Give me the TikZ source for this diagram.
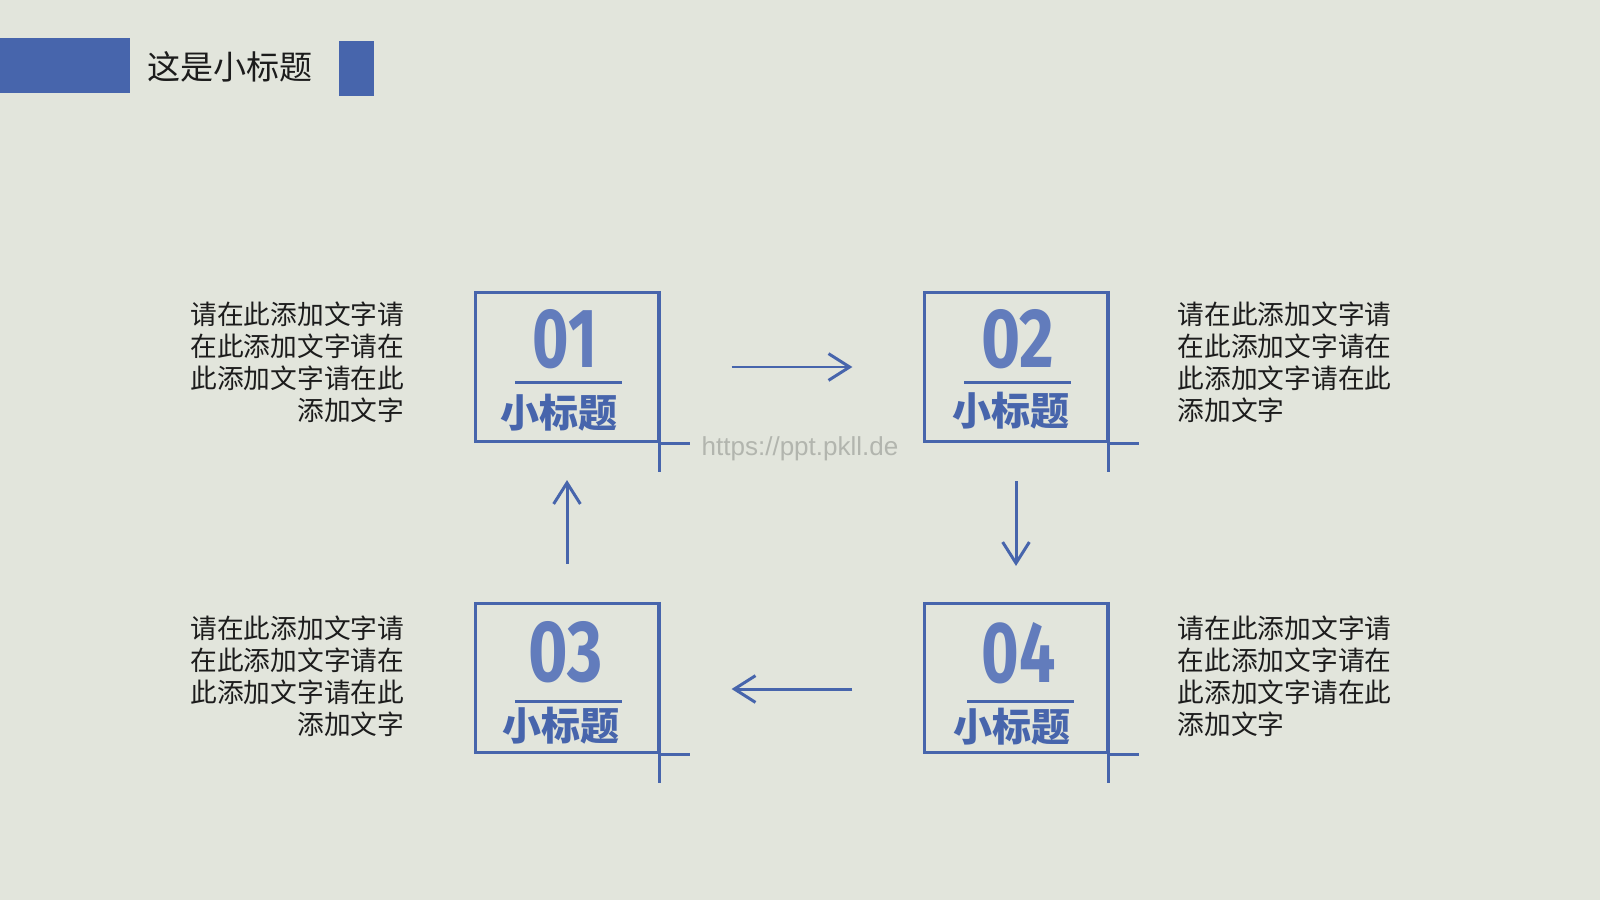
\documentclass[tikz,border=0pt]{standalone}
\usepackage{fontspec}
\setmainfont{Liberation Sans}
\newfontfamily\cjk{Noto Sans CJK SC}
\newfontfamily\numfont{Fira Sans}
\usetikzlibrary{arrows.meta}
\definecolor{blueC}{RGB}{71,101,172}
\definecolor{digitC}{RGB}{98,124,188}
\definecolor{paper}{RGB}{226,229,220}
\definecolor{ink}{RGB}{28,28,28}
\definecolor{wm}{RGB}{178,181,174}
\begin{document}
\begin{tikzpicture}[x=0.01cm,y=-0.01cm,
  boxline/.style={draw=blueC,line width=0.85pt},
  stepbox/.style={draw=blueC,line width=0.85pt,minimum width=1.82cm,minimum height=1.49cm,inner sep=0pt},
  flow/.style={draw=blueC,line width=0.85pt,-{Straight Barb[length=6pt,width=7.6pt,line width=0.85pt]}},
  body/.style={font=\cjk\fontsize{7.6pt}{9.1pt}\selectfont,text=ink,inner sep=0pt},
  sub/.style={font=\cjk\bfseries\fontsize{11.1pt}{12pt}\selectfont,text=blueC,inner sep=0pt},
  digits/.style={text=digitC,inner sep=0pt}]
\fill[paper] (0,0) rectangle (1600,900);
\useasboundingbox (0,0) rectangle (1600,900);

% header
\fill[blueC] (0,38) rectangle (130,93);
\fill[blueC] (339,41) rectangle (374,96);
\node[anchor=west,inner sep=0pt,text=ink,font=\cjk\fontsize{9.4pt}{10pt}\selectfont] (title) at (147,67) {这是小标题};

% boxes
\node[stepbox] (b1) at (567,367) {};
\node[stepbox] (b2) at (1016,367) {};
\node[stepbox] (b3) at (567,678) {};
\node[stepbox] (b4) at (1016,678) {};

\foreach \b in {b1,b2,b3,b4}{
  \draw[boxline] (\b.north east) -- ([yshift=-0.29cm]\b.south east);
  \draw[boxline] (\b.south east) -- ([xshift=0.3cm]\b.south east);
}

% box contents
\node[digits] (n1) at (565,339) {\resizebox{0.64cm}{0.58cm}{\numfont\bfseries 01}};
\node[digits] (n2) at (1018,339) {\resizebox{0.73cm}{0.58cm}{\numfont\bfseries 02}};
\node[digits] (n3) at (566,652) {\resizebox{0.74cm}{0.6cm}{\numfont\bfseries 03}};
\node[digits] (n4) at (1019,653) {\resizebox{0.74cm}{0.6cm}{\numfont\bfseries 04}};

\draw[boxline] (515,382) -- (622,382);
\draw[boxline] (964,382) -- (1071,382);
\draw[boxline] (515,701) -- (622,701);
\draw[boxline] (967,701) -- (1074,701);

\node[sub] (s1) at (559,413) {小标题};
\node[sub] (s2) at (1011,411) {小标题};
\node[sub] (s3) at (561,726) {小标题};
\node[sub] (s4) at (1012,727) {小标题};

% flow arrows
\draw[flow] ([xshift=0.72cm]b1.east) -- ([xshift=-0.71cm]b2.west);
\draw[flow] ([yshift=-0.38cm]b2.south) -- ([yshift=0.36cm]b4.north);
\draw[flow] ([xshift=-0.71cm,yshift=-0.11cm]b4.west) -- ([xshift=0.72cm,yshift=-0.11cm]b3.east);
\draw[flow] ([yshift=0.38cm]b3.north) -- ([yshift=-0.37cm]b1.south);

% text blocks
\node[body,align=right,anchor=north east] (t1) at (405,301) {请在此添加文字请\\在此添加文字请在\\此添加文字请在此\\添加文字};
\node[body,align=left,anchor=north west] (t2) at (1177,301) {请在此添加文字请\\在此添加文字请在\\此添加文字请在此\\添加文字};
\node[body,align=right,anchor=north east] (t3) at (405,615) {请在此添加文字请\\在此添加文字请在\\此添加文字请在此\\添加文字};
\node[body,align=left,anchor=north west] (t4) at (1177,615) {请在此添加文字请\\在此添加文字请在\\此添加文字请在此\\添加文字};

% watermark
\node[text=wm,inner sep=0pt,font=\fontsize{7.4pt}{8pt}\selectfont] (wmk) at (800,449) {https://ppt.pkll.de};
\end{tikzpicture}
\end{document}
